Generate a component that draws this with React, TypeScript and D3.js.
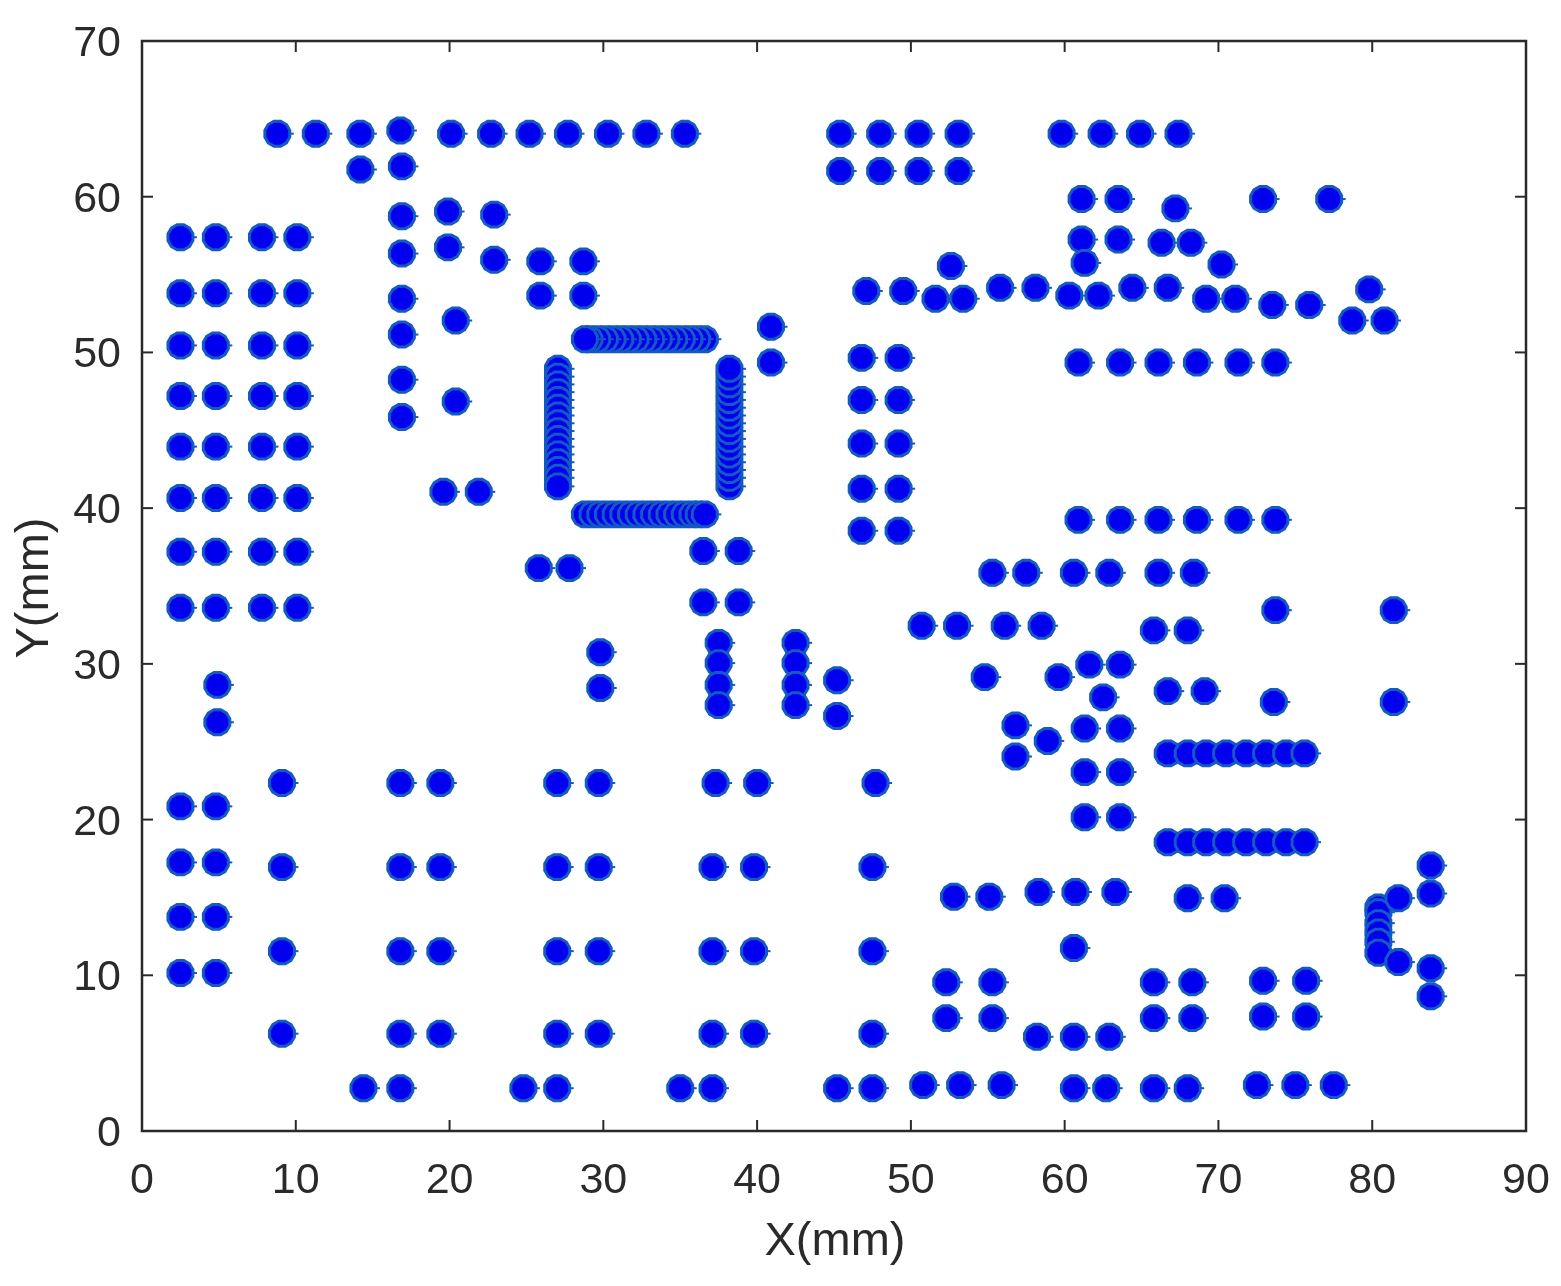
import React from 'react'
import * as d3 from 'd3'

type Pt = [number, number]

const xTicks = [0, 10, 20, 30, 40, 50, 60, 70, 80, 90]
const yTicks = [0, 10, 20, 30, 40, 50, 60, 70]

// build a rectangular block of pads from its columns and rows
const grid = (xs: number[], ys: number[]): Pt[] => ys.flatMap((y) => xs.map((x): Pt => [x, y]))

// left side connectors
const leftBlockX = [2.5, 4.8, 7.8, 10.1]
const leftBlockY = [57.45, 53.85, 50.5, 47.25, 44.0, 40.7, 37.25, 33.65]
const leftLowX = [2.5, 4.8]
const leftLowY = [20.9, 17.3, 13.8, 10.2]
const leftPair: Pt[] = [[4.9, 28.7], [4.9, 26.3]]

// top rows
const topRowA = [8.8, 11.3, 14.2, 20.1, 22.7, 25.2, 27.7, 30.3, 32.8, 35.3]
const topRowB = [45.4, 48.0, 50.5, 53.1]
const topRowC = [59.8, 62.4, 64.9, 67.4]
const topMisc: Pt[] = [
  [16.8, 64.3], [14.2, 61.8], [16.9, 62.0], [16.9, 58.8], [16.9, 56.4], [16.9, 53.5], [16.9, 51.2],
  [16.9, 48.3], [16.9, 45.9], [19.9, 59.1], [19.9, 56.8], [22.9, 58.9], [22.9, 56.0], [25.9, 55.9],
  [28.7, 55.9], [25.9, 53.7], [28.7, 53.7], [20.4, 52.1], [20.4, 46.9], [19.6, 41.1], [21.9, 41.1],
]

// QFP outline, listed in the order the pads overlap
const qfpTopX = [36.6, 36.1, 35.6, 35.1, 34.6, 34.1, 33.6, 33.1, 32.6, 32.1, 31.6, 31.1, 30.6, 30.1, 29.6, 29.1, 28.8]
const qfpBottomX = [28.8, 29.3, 29.8, 30.3, 30.8, 31.3, 31.8, 32.3, 32.8, 33.3, 33.8, 34.3, 34.8, 35.3, 35.8, 36.2, 36.6]
const qfpLeftY = [49.0, 48.5, 48.0, 47.5, 47.0, 46.5, 46.0, 45.5, 45.0, 44.5, 44.0, 43.5, 43.0, 42.5, 42.0, 41.45]
const qfpRightY = [41.45, 42.0, 42.5, 43.0, 43.5, 44.0, 44.5, 45.0, 45.5, 46.0, 46.5, 47.0, 47.5, 48.0, 48.5, 49.0]

// middle parts
const midMisc: Pt[] = [
  [36.5, 37.3], [38.8, 37.3], [36.5, 34.0], [38.8, 34.0], [25.8, 36.2], [27.8, 36.2], [29.8, 30.8],
  [29.8, 28.5], [37.5, 31.4], [37.5, 30.1], [37.5, 28.7], [37.5, 27.4], [42.5, 31.4], [42.5, 30.1],
  [42.5, 28.7], [42.5, 27.4], [45.2, 29.0], [45.2, 26.7], [40.9, 51.7], [40.9, 49.4],
]
const midBlockX = [46.8, 49.2]
const midBlockY = [49.7, 47.0, 44.2, 41.3, 38.6]

// bottom left rows
const lowRow22 = [9.1, 16.8, 19.4, 27.0, 29.7, 37.3, 40.0, 47.7]
const lowRowX = [9.1, 16.8, 19.4, 27.0, 29.7, 37.1, 39.8, 47.5]
const lowRowY = [17.0, 11.6, 6.3]
const bottomEdge: Pt[] = [
  [14.4, 2.8], [16.8, 2.8], [24.8, 2.8], [27.0, 2.8], [35.0, 2.8], [37.1, 2.8], [45.2, 2.8], [47.5, 2.8],
  [50.8, 3.0], [53.2, 3.0], [55.9, 3.0], [60.6, 2.8], [62.7, 2.8], [65.8, 2.8], [68.0, 2.8], [72.5, 3.0],
  [75.0, 3.0], [77.5, 3.0],
]

// upper right
const upperRight: Pt[] = [
  [61.1, 59.9], [63.5, 59.9], [67.2, 59.3], [72.9, 59.9], [77.2, 59.9], [61.1, 57.3], [63.5, 57.3],
  [66.3, 57.1], [68.2, 57.1], [61.3, 55.8], [70.2, 55.7], [47.1, 54.0], [49.5, 54.0], [52.6, 55.6],
  [51.6, 53.5], [53.4, 53.5], [55.8, 54.2], [58.1, 54.2], [60.3, 53.7], [62.2, 53.7], [64.4, 54.2],
  [66.7, 54.2], [69.2, 53.5], [71.1, 53.5], [73.5, 53.1], [75.9, 53.1], [79.8, 54.1], [78.7, 52.1],
  [80.8, 52.1],
]
const rightRowX = [60.9, 63.6, 66.1, 68.6, 71.3, 73.7]
const rightRowY = [49.4, 39.3]

// lower right
const row36 = [55.3, 57.5, 60.6, 62.9, 66.1, 68.4]
const lowerRight: Pt[] = [
  [73.7, 33.5], [81.4, 33.5], [73.6, 27.6], [81.4, 27.6], [50.7, 32.5], [53.0, 32.5], [56.1, 32.5],
  [58.5, 32.5], [65.8, 32.2], [68.0, 32.2], [54.8, 29.2], [59.6, 29.2], [61.6, 30.0], [63.6, 30.0],
  [62.5, 27.9], [66.7, 28.3], [69.1, 28.3], [56.8, 26.1], [56.8, 24.1], [58.9, 25.1], [61.3, 25.9],
  [63.6, 25.9], [61.3, 23.1], [63.6, 23.1], [61.3, 20.2], [63.6, 20.2], [68.0, 15.0], [70.4, 15.0],
  [52.8, 15.1], [55.1, 15.1], [58.3, 15.4], [60.7, 15.4], [63.3, 15.4], [60.6, 11.8], [52.3, 9.6],
  [55.3, 9.6], [52.3, 7.3], [55.3, 7.3], [58.2, 6.1], [60.6, 6.1], [62.9, 6.1], [65.8, 9.6], [68.3, 9.6],
  [65.8, 7.3], [68.3, 7.3], [72.9, 9.7], [75.7, 9.7], [72.9, 7.4], [75.7, 7.4],
]
const headerX = [66.7, 68.0, 69.2, 70.5, 71.8, 73.1, 74.4, 75.6]
const headerY = [24.3, 18.6]
const connector: Pt[] = [
  [80.4, 14.4], [80.4, 14.1], [80.4, 13.4], [80.4, 12.8], [80.4, 12.2], [80.4, 11.5],
  [81.7, 15.0], [81.7, 10.9], [83.8, 17.1], [83.8, 15.3], [83.8, 10.5], [83.8, 8.7],
]

const pads: Pt[] = [
  ...grid(leftBlockX, leftBlockY),
  ...grid(leftLowX, leftLowY),
  ...leftPair,
  ...grid(topRowA, [64.1]),
  ...grid(topRowB, [64.1, 61.7]),
  ...grid(topRowC, [64.1]),
  ...topMisc,
  ...grid(qfpTopX, [50.9]),
  ...grid(qfpBottomX, [39.65]),
  ...grid([27.05], qfpLeftY),
  ...grid([38.2], qfpRightY),
  ...midMisc,
  ...grid(midBlockX, midBlockY),
  ...grid(lowRow22, [22.4]),
  ...grid(lowRowX, lowRowY),
  ...bottomEdge,
  ...upperRight,
  ...grid(rightRowX, rightRowY),
  ...grid(row36, [35.9]),
  ...lowerRight,
  ...grid(headerX, headerY),
  ...connector,
]

const width = 1561
const height = 1286
const left = 142
const right = 1526
const top = 41
const bottom = 1131
const ink = '#2b2b2b'
const edge = '#1258c4'
const tickLen = 11

// coarse round marker, the pads are not quite circles in the reference
const padShape = {
  draw(context: any, size: number) {
    const r = Math.sqrt(size)
    d3.range(12).forEach((i) => {
      const a = Math.PI / 12 + (i * Math.PI) / 6
      if (i === 0) context.moveTo(r * Math.cos(a), r * Math.sin(a))
      else context.lineTo(r * Math.cos(a), r * Math.sin(a))
    })
    context.closePath()
  },
}

export default function App() {
  const x = d3.scaleLinear().domain([0, 90]).range([left, right])
  const y = d3.scaleLinear().domain([0, 70]).range([bottom, top])
  const padPath = d3.symbol(padShape as any, 12.9 * 12.9)() as string

  return (
    <svg
      width={width}
      height={height}
      style={{ position: 'absolute', left: 0, top: 0, background: '#fff' }}
      fontFamily='"Liberation Sans", Arial, sans-serif'
    >
      <defs>
        <filter id="soft" x="-5%" y="-5%" width="110%" height="110%">
          <feGaussianBlur stdDeviation="0.6" />
        </filter>
      </defs>
      <g filter="url(#soft)">
        <g transform="translate(0,0.8)">
          {pads.map((d, i) => (
            <g key={i} transform={`translate(${x(d[0])},${y(d[1])})`}>
              <line x1={13} x2={16.5} y1={0} y2={0} stroke={edge} strokeWidth={2} />
              <path d={padPath} fill="#0000ee" stroke={edge} strokeWidth={3} />
            </g>
          ))}
        </g>

        <rect x={left} y={top} width={right - left} height={bottom - top} fill="none" stroke={ink} strokeWidth={2.5} />

        {xTicks.map((t) => (
          <g key={t}>
            <line x1={x(t)} x2={x(t)} y1={bottom} y2={bottom - tickLen} stroke={ink} strokeWidth={2} />
            <line x1={x(t)} x2={x(t)} y1={top} y2={top + tickLen} stroke={ink} strokeWidth={2} />
            <text x={x(t)} y={1193} textAnchor="middle" fontSize={43} fill={ink}>{t}</text>
          </g>
        ))}
        {yTicks.map((t) => (
          <g key={t}>
            <line x1={left} x2={left + tickLen} y1={y(t)} y2={y(t)} stroke={ink} strokeWidth={2} />
            <line x1={right} x2={right - tickLen} y1={y(t)} y2={y(t)} stroke={ink} strokeWidth={2} />
            <text x={121} y={y(t) + 15} textAnchor="end" fontSize={43} fill={ink}>{t}</text>
          </g>
        ))}

        <text x={835} y={1255} textAnchor="middle" fontSize={47} fill={ink}>X(mm)</text>
        <text transform="translate(48,588) rotate(-90)" textAnchor="middle" fontSize={47} fill={ink}>Y(mm)</text>
      </g>
    </svg>
  )
}
